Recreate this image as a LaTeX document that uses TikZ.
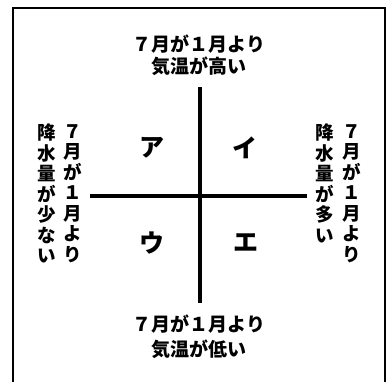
\documentclass[tikz,border=0pt]{standalone}
\usepackage{fontspec}
\newfontfamily\jp{Noto Sans CJK JP}
\tikzset{
  lbl/.style={font=\jp\bfseries\fontsize{19}{21}\selectfont, inner sep=0pt, align=center},
  vcol/.style={font=\jp\bfseries\fontsize{18.5}{20.5}\selectfont, inner sep=0pt, align=center, anchor=north},
  quad/.style={font=\jp\bfseries\fontsize{25}{25}\selectfont, inner sep=0pt},
  axis/.style={line width=4.5pt},
  frame/.style={line width=2.5pt}
}
\begin{document}
\begin{tikzpicture}[x=1pt,y=-1pt]
\useasboundingbox (0,0) rectangle (388,381);
\draw[frame] (13,384) |- (385,8) -- (385,384);
% axes
\coordinate (vt) at (200,87);
\coordinate (vb) at (200,303);
\coordinate (hl) at (90,196);
\coordinate (hr) at (307,196);
\draw[axis] (vt) -- (vb);
\draw[axis] (hl) -- (hr);
% top / bottom labels
\node[lbl] (top1) at (199,44) {７月が１月より};
\node[lbl] (top2) at (199,66) {気温が高い};
\node[lbl] (bot1) at (199,324) {７月が１月より};
\node[lbl] (bot2) at (199,349) {気温が低い};
% left columns
\node[vcol] (lc1) at (73,124) {７\\月\\が\\１\\月\\よ\\り};
\node[vcol] (lc2) at (47,124) {降\\水\\量\\が\\少\\な\\い};
% right columns
\node[vcol] (rc1) at (352,124) {７\\月\\が\\１\\月\\よ\\り};
\node[vcol] (rc2) at (325,124) {降\\水\\量\\が\\多\\い};
% quadrants
\node[quad] (qa) at (152,148) {ア};
\node[quad] (qi) at (245,148) {イ};
\node[quad] (qu) at (152,243) {ウ};
\node[quad] (qe) at (246,243) {エ};
\end{tikzpicture}
\end{document}
